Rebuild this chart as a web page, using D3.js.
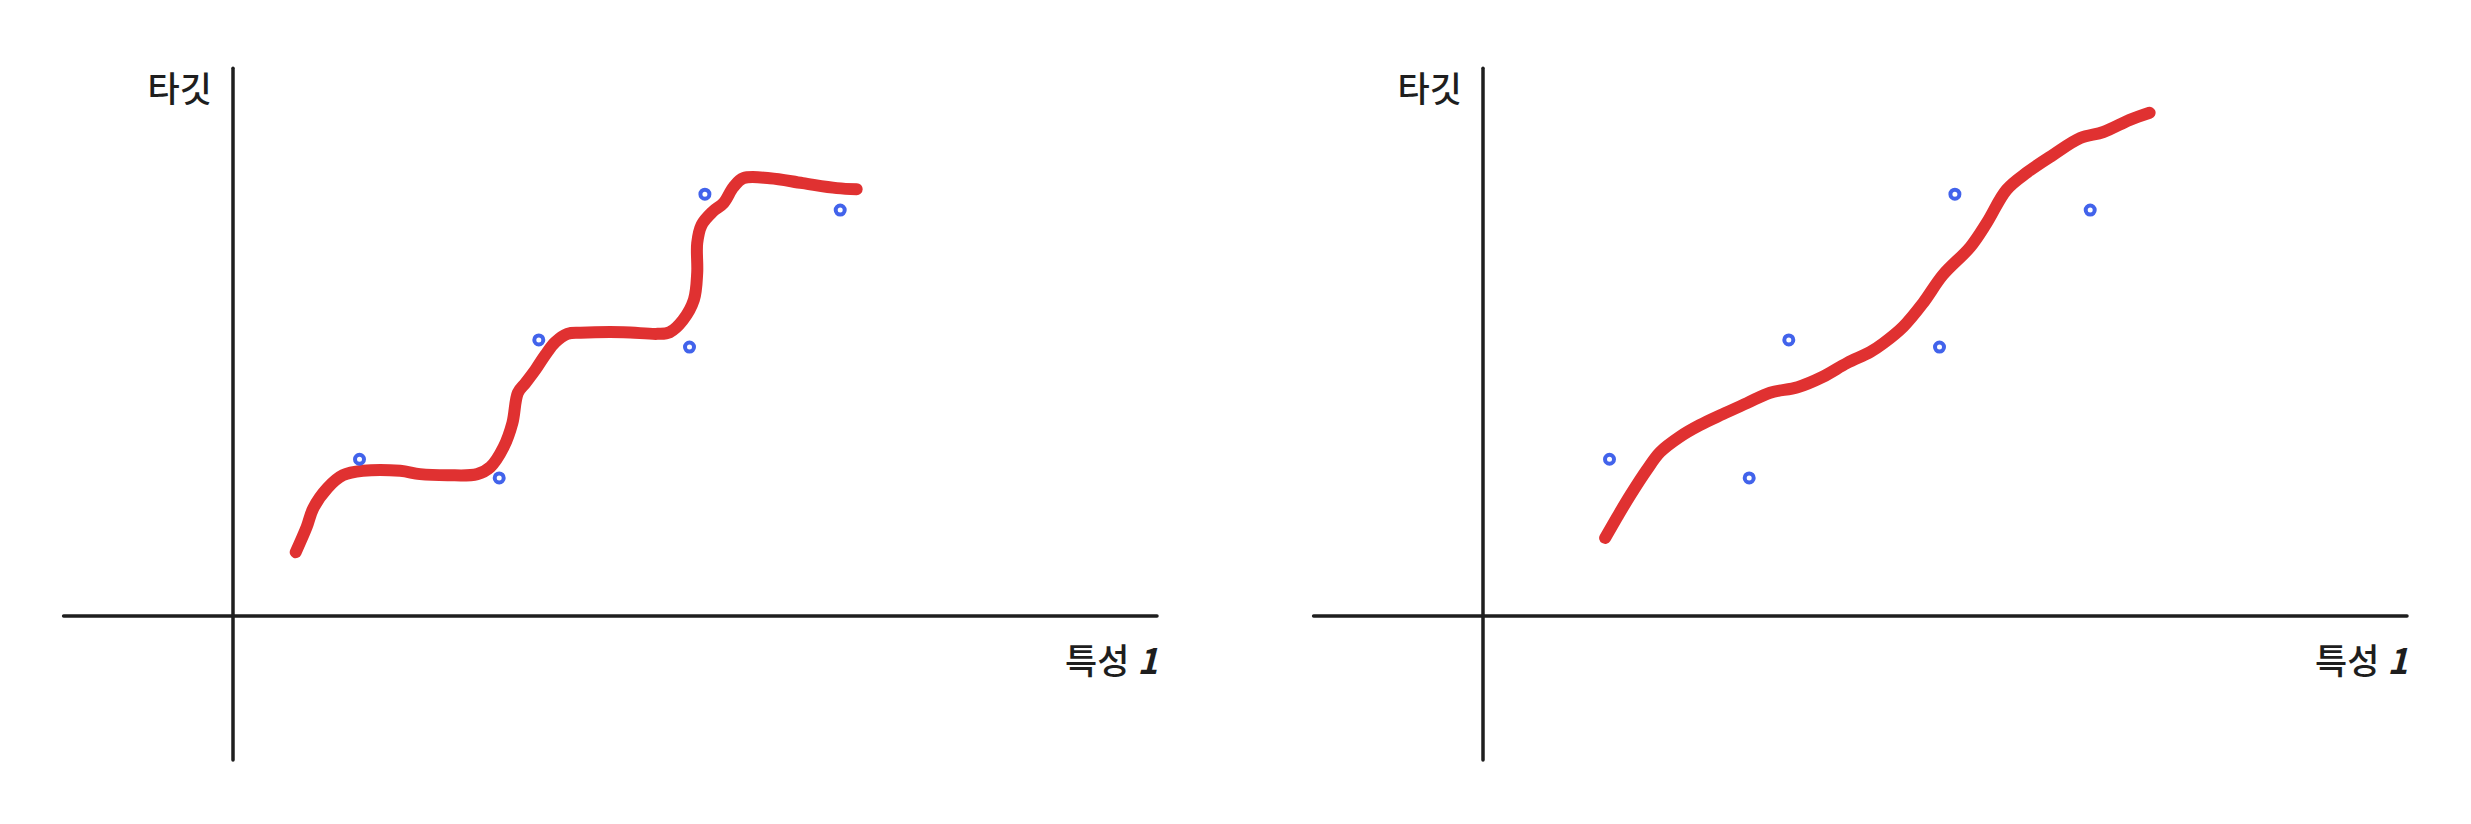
<!DOCTYPE html>
<html>
<head>
<meta charset="utf-8">
<script src="https://cdn.jsdelivr.net/npm/d3@7"></script>
<style>
  body { margin: 0; background: #fff; }
  text { font-family: "Noto Sans CJK KR", "Noto Sans", sans-serif; fill: #1e1e1e; }
</style>
</head>
<body>
<div class="chart"></div>
<script>
// sample points (same in both panels)
var pointX = [1.15, 2.42, 2.78, 4.15, 4.29, 5.52];
var pointY = [2.85, 2.51, 5.02, 4.89, 7.67, 7.38];

// left panel: overfitted, step-like fit
var stepFitX = [0.57, 0.67, 0.73, 0.86, 1.00, 1.18, 1.52, 1.70, 1.95, 2.22, 2.34, 2.46, 2.54, 2.59, 2.66, 2.75, 2.84, 2.93, 3.04, 3.16,
                3.55, 3.86, 3.97, 4.09, 4.19, 4.22, 4.22, 4.26, 4.36, 4.46, 4.55, 4.64, 4.88, 5.18, 5.49, 5.67];
var stepFitY = [1.16, 1.62, 1.96, 2.33, 2.56, 2.64, 2.64, 2.58, 2.56, 2.58, 2.71, 3.07, 3.51, 4.06, 4.24, 4.48, 4.75, 4.98, 5.13, 5.15,
                5.16, 5.13, 5.16, 5.38, 5.75, 6.24, 6.78, 7.11, 7.35, 7.51, 7.80, 7.96, 7.96, 7.87, 7.78, 7.76];

// right panel: smooth fit
var smoothFitX = [1.11, 1.22, 1.34, 1.49, 1.61, 1.79, 1.97, 2.18, 2.40, 2.61, 2.86, 3.09, 3.31, 3.52, 3.64, 3.82, 4.00, 4.18,
                  4.43, 4.58, 4.76, 4.95, 5.18, 5.43, 5.64, 5.88, 6.06];
var smoothFitY = [1.42, 1.80, 2.20, 2.66, 2.98, 3.26, 3.47, 3.67, 3.87, 4.06, 4.16, 4.35, 4.60, 4.80, 4.96, 5.26, 5.69, 6.20,
                  6.71, 7.15, 7.75, 8.07, 8.38, 8.69, 8.80, 9.02, 9.15];

var xAxisExtent = [-1.54, 8.4];
var yAxisExtent = [-2.62, 9.96];
var yLabel = "타깃";
var xLabelText = "특성";
var xLabelNum = "1";

var width = 2471, height = 824;

var svg = d3.select(".chart")
            .append("svg")
            .attr("width", width)
            .attr("height", height);

function drawPanel(offsetX, fitX, fitY){
  var x = d3.scaleLinear().domain([0, 10]).range([233 + offsetX, 233 + offsetX + 1100]);
  var y = d3.scaleLinear().domain([0, 10]).range([616, 66]);

  var g = svg.append("g");

  // axes
  g.append("line")
    .attr("x1", x(xAxisExtent[0])).attr("x2", x(xAxisExtent[1]))
    .attr("y1", y(0)).attr("y2", y(0))
    .attr("stroke", "#1e1e1e").attr("stroke-width", 3.5).attr("stroke-linecap", "round");
  g.append("line")
    .attr("x1", x(0)).attr("x2", x(0))
    .attr("y1", y(yAxisExtent[0])).attr("y2", y(yAxisExtent[1]))
    .attr("stroke", "#1e1e1e").attr("stroke-width", 3.5).attr("stroke-linecap", "round");

  // labels
  g.append("text")
    .attr("x", x(0) - 21)
    .attr("y", 102)
    .attr("text-anchor", "end")
    .style("font-size", "35px")
    .style("font-weight", "500")
    .text(yLabel);

  var xl = g.append("text")
    .attr("x", x(xAxisExtent[1]) + 1)
    .attr("y", 674)
    .attr("text-anchor", "end")
    .style("font-size", "35px")
    .style("font-weight", "500");
  xl.append("tspan").text(xLabelText + " ");
  xl.append("tspan").style("font-style", "italic").style("font-weight", "bold").text(xLabelNum);

  // fitted curve
  var line = d3.line()
               .x(function(d){ return x(d[0]); })
               .y(function(d){ return y(d[1]); })
               .curve(d3.curveCatmullRom.alpha(0.5));
  g.append("path")
    .datum(d3.zip(fitX, fitY))
    .attr("d", line)
    .attr("fill", "none")
    .attr("stroke", "#e03131")
    .attr("stroke-width", 12)
    .attr("stroke-linecap", "round")
    .attr("stroke-linejoin", "round");

  // data points
  g.selectAll("circle")
    .data(d3.zip(pointX, pointY))
    .enter()
    .append("circle")
    .attr("cx", function(d){ return x(d[0]); })
    .attr("cy", function(d){ return y(d[1]); })
    .attr("r", 4.5)
    .attr("fill", "#fff")
    .attr("stroke", "#4263eb")
    .attr("stroke-width", 4);
}

drawPanel(0, stepFitX, stepFitY);
drawPanel(1250, smoothFitX, smoothFitY);
</script>
</body>
</html>
